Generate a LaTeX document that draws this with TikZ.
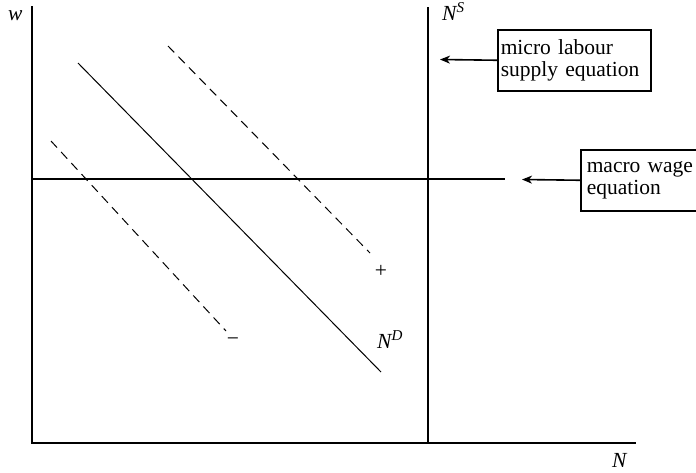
\documentclass[tikz,border=0pt]{standalone}
\usepackage{fontspec}
\setmainfont{Liberation Serif}
\usetikzlibrary{arrows.meta}
\begin{document}
\begin{tikzpicture}[x=1pt,y=-1pt,
  axis/.style={line width=1.5pt},
  curve/.style={line width=1pt},
  dashcurve/.style={line width=1pt, dash pattern=on 9pt off 6pt},
  labelbox/.style={draw, line width=1.5pt, align=left, anchor=north west,
    font=\fontsize{21.5}{22.5}\selectfont},
  lbl/.style={font=\fontsize{21.5}{22.5}\selectfont\itshape, anchor=base west, inner sep=0pt},
  sign/.style={font=\fontsize{21.5}{22.5}\selectfont, inner sep=0pt},
  arr/.style={-{Stealth[length=10pt,width=8pt,inset=3pt]}, line width=1.6pt}]
\clip (0,0) rectangle (696,472);
\fill[white] (0,0) rectangle (696,472);
% axes
\coordinate (ytop) at (32,6);
\coordinate (o) at (32,443);
\coordinate (xend) at (636,443);
\draw[axis] (ytop) -- (o) -- (xend);
% N^S vertical
\coordinate (ns1) at (428,7);
\coordinate (ns2) at (428,443);
\draw[axis] (ns1) -- (ns2);
% wage line
\coordinate (w1) at (32,179);
\coordinate (w2) at (505,179);
\draw[axis] (w1) -- (w2);
% demand curves
\coordinate (nd1) at (78,63);
\coordinate (nd2) at (381,372);
\draw[curve] (nd1) -- (nd2);
\coordinate (up1) at (168,46);
\coordinate (up2) at (370,253);
\draw[dashcurve] (up1) -- (up2);
\coordinate (lo1) at (51,141);
\coordinate (lo2) at (226,331);
\draw[dashcurve] (lo1) -- (lo2);
% labels
\node[lbl] (wl) at (8,20) {w};
\node[lbl] (nl) at (612,467) {N};
\node[lbl] (nsl) at (442,20) {N\textsuperscript{S}};
\node[lbl] (ndl) at (377,348) {N\textsuperscript{D}};
\node[sign] (plus) at (381,271) {+};
\node[sign] (minus) at (233,342) {−};
% boxes
\node[labelbox, inner xsep=3pt, text width=147pt, minimum height=61pt] (b1) at (497,29) {micro labour\\supply equation};
\node[labelbox, inner xsep=6pt, text width=112pt, minimum height=61pt] (b2) at (580,149) {macro wage\\equation};
\coordinate (a1) at (440,59.5);
\coordinate (a2) at (522,179.5);
\draw[arr] (b1.west) -- (a1);
\draw[arr] (b2.west) -- (a2);
\end{tikzpicture}
\end{document}
